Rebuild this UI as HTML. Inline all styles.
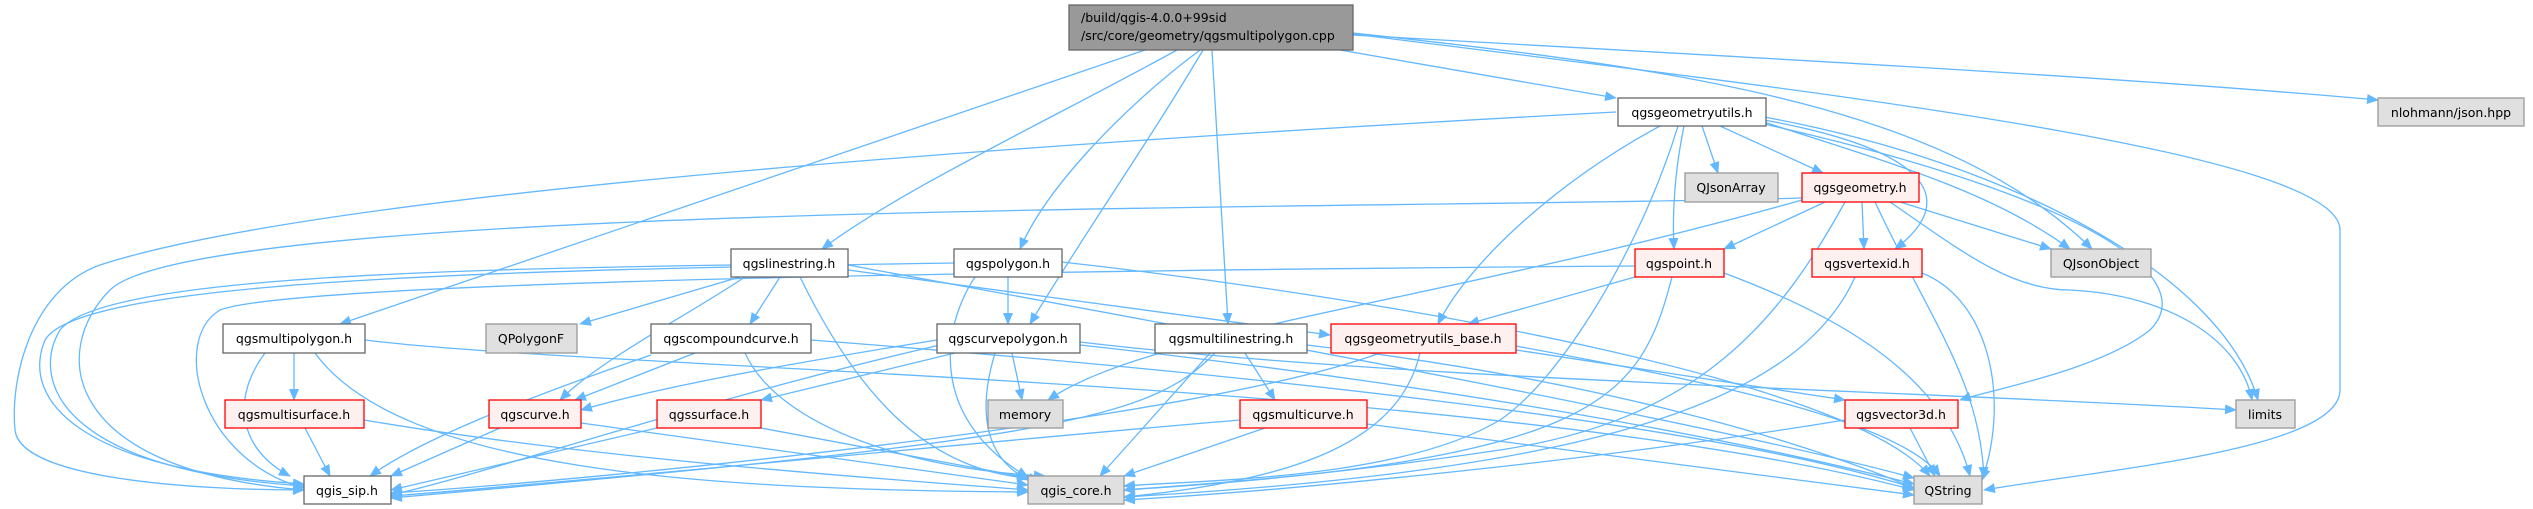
<!DOCTYPE html>
<html><head><meta charset="utf-8"><style>
html,body{margin:0;padding:0;background:#fff;}
svg{display:block}
text{font-family:"DejaVu Sans","Liberation Sans",sans-serif;font-size:12.5px;fill:#000}
</style></head><body>
<svg width="2533" height="509" viewBox="0 0 2533 509" xmlns="http://www.w3.org/2000/svg">
<defs>
<marker id="a" markerWidth="12" markerHeight="10" refX="11" refY="5" orient="auto" markerUnits="userSpaceOnUse">
<path d="M0,0 L12,5 L0,10 Z" fill="#63b8ff"/>
</marker>
</defs>
<g fill="none" stroke="#63b8ff" stroke-width="1.3" marker-end="url(#a)">
<!-- root -->
<path d="M1145,50 L340,324"/>
<path d="M1177,50 C1050,120 900,190 822,249"/>
<path d="M1200,50 C1120,110 1045,190 1020,249"/>
<path d="M1203,50 C1150,140 1080,240 1030,324"/>
<path d="M1212,50 L1228,324"/>
<path d="M1340,50 L1616,98"/>
<path d="M1353,35 C1700,55 2100,75 2378,100"/>
<path d="M1353,33 C1700,70 1950,110 2092,249"/>
<path d="M1353,34 C1800,90 2340,150 2340,230 L2340,390 C2340,450 2100,470 1984,490"/>
<!-- geometryutils -->
<path d="M1616,112 C900,150 300,200 100,265 C30,290 10,380 15,430 C20,480 200,490 304,490"/>
<path d="M1702,126 L1718,173"/>
<path d="M1720,126 L1823,173"/>
<path d="M1684,126 C1675,170 1672,210 1674,249"/>
<path d="M1660,126 C1560,180 1470,260 1438,324"/>
<path d="M1678,126 C1640,250 1560,380 1500,420 C1400,480 1200,480 1124,486"/>
<path d="M1764,120 C1930,150 1960,200 1895,249"/>
<path d="M1764,122 C1880,160 1990,190 2070,249"/>
<path d="M1764,117 C2000,160 2220,270 2258,400"/>
<path d="M1764,124 C2100,200 2200,280 2150,330 C2100,370 1990,390 1960,400"/>
<!-- geometry -->
<path d="M1802,198 C1400,210 200,200 110,290 C50,350 60,470 304,490"/>
<path d="M1802,200 C1450,300 1150,330 1048,400"/>
<path d="M1825,202 L1724,249"/>
<path d="M1862,202 L1864,249"/>
<path d="M1900,202 L2051,249"/>
<path d="M1845,202 C1780,320 1700,420 1500,450 C1300,480 1170,486 1124,490"/>
<path d="M1875,202 C1930,320 1980,380 1984,478"/>
<path d="M1890,202 C1960,250 2010,290 2070,290 C2170,295 2240,340 2252,400"/>
<!-- qgspoint -->
<path d="M1635,266 C1100,270 300,280 220,310 C170,340 200,460 304,488"/>
<path d="M1635,277 L1468,324"/>
<path d="M1672,277 C1640,400 1600,460 1124,490"/>
<path d="M1724,273 C1850,320 1945,380 1970,476"/>
<!-- vertexid -->
<path d="M1855,277 C1800,400 1600,470 1124,497"/>
<path d="M1922,273 C1990,300 2010,400 1982,480"/>
<!-- geometryutils_base -->
<path d="M1380,353 C1200,420 600,480 391,493"/>
<path d="M1420,353 C1400,440 1300,480 1124,497"/>
<path d="M1516,350 L1845,400"/>
<path d="M1516,346 C1700,380 1900,420 1940,476"/>
<!-- vector3d -->
<path d="M1845,420 C1600,460 1300,490 1124,500"/>
<path d="M1910,428 L1935,476"/>
<!-- multicurve -->
<path d="M1240,420 C1000,440 600,480 391,496"/>
<path d="M1265,428 L1124,476"/>
<path d="M1367,424 L1914,495"/>
<!-- multilinestring -->
<path d="M1215,353 C1150,420 1050,440 391,498"/>
<path d="M1210,353 L1100,476"/>
<path d="M1245,353 L1275,400"/>
<path d="M1307,345 C1600,380 1800,440 1914,488"/>
<!-- curvepolygon -->
<path d="M937,340 C750,370 650,390 581,410"/>
<path d="M955,353 L761,400"/>
<path d="M940,345 C700,400 500,470 391,495"/>
<path d="M1012,353 L1022,400"/>
<path d="M995,353 C975,420 990,460 1028,480"/>
<path d="M1080,345 C1400,380 1700,430 1914,484"/>
<path d="M1080,342 C1400,380 1900,390 2236,410"/>
<!-- linestring -->
<path d="M731,265 C400,270 100,280 60,330 C30,380 60,470 304,486"/>
<path d="M740,277 L580,324"/>
<path d="M780,277 L750,324"/>
<path d="M745,277 C680,320 600,360 560,400"/>
<path d="M800,277 C860,400 930,470 1028,478"/>
<path d="M848,270 L1330,335"/>
<path d="M848,265 C1200,330 1700,420 1914,478"/>
<!-- polygon -->
<path d="M954,263 C500,270 80,280 45,340 C20,400 80,470 304,484"/>
<path d="M1008,277 L1008,324"/>
<path d="M975,277 C940,330 930,420 1028,477"/>
<path d="M1062,262 C1400,300 1850,380 1930,476"/>
<!-- multipolygon -->
<path d="M265,353 C230,400 240,450 290,476"/>
<path d="M294,353 L294,400"/>
<path d="M315,353 C400,470 700,490 1028,492"/>
<path d="M365,340 C600,370 1500,380 1914,490"/>
<!-- compoundcurve -->
<path d="M651,355 C520,400 420,440 370,476"/>
<path d="M695,353 L575,400"/>
<path d="M745,353 C780,430 920,470 1045,476"/>
<path d="M811,340 C1200,370 1700,420 1914,488"/>
<!-- multisurface, curve, surface -->
<path d="M305,428 L330,476"/>
<path d="M364,420 C600,460 900,480 1028,490"/>
<path d="M500,428 L391,476"/>
<path d="M581,423 L1028,485"/>
<path d="M657,428 L391,490"/>
<path d="M761,428 L1040,480"/>
</g>
<g stroke-width="1.3">
<rect x="1069" y="5" width="284" height="45" fill="#999" stroke="#666"/>
<text x="1081" y="22">/build/qgis-4.0.0+99sid</text>
<text x="1081" y="40">/src/core/geometry/qgsmultipolygon.cpp</text>
</g>
<g stroke-width="1.3" text-anchor="middle">
<rect x="1618" y="98" width="148" height="28" fill="#fff" stroke="#666"/><text x="1692" y="117">qgsgeometryutils.h</text>
<rect x="2378" y="98" width="146" height="28" fill="#e0e0e0" stroke="#999"/><text x="2451" y="117">nlohmann/json.hpp</text>
<rect x="1685" y="173" width="93" height="29" fill="#e0e0e0" stroke="#999"/><text x="1731" y="192">QJsonArray</text>
<rect x="1802" y="173" width="117" height="29" fill="#fff0f0" stroke="#f00"/><text x="1860" y="192">qgsgeometry.h</text>
<rect x="731" y="249" width="117" height="28" fill="#fff" stroke="#666"/><text x="789" y="268">qgslinestring.h</text>
<rect x="954" y="249" width="108" height="28" fill="#fff" stroke="#666"/><text x="1008" y="268">qgspolygon.h</text>
<rect x="1635" y="249" width="89" height="28" fill="#fff0f0" stroke="#f00"/><text x="1679" y="268">qgspoint.h</text>
<rect x="1812" y="249" width="110" height="28" fill="#fff0f0" stroke="#f00"/><text x="1867" y="268">qgsvertexid.h</text>
<rect x="2051" y="249" width="100" height="28" fill="#e0e0e0" stroke="#999"/><text x="2101" y="268">QJsonObject</text>
<rect x="223" y="324" width="142" height="29" fill="#fff" stroke="#666"/><text x="294" y="343">qgsmultipolygon.h</text>
<rect x="486" y="324" width="91" height="29" fill="#e0e0e0" stroke="#999"/><text x="531" y="343">QPolygonF</text>
<rect x="651" y="324" width="160" height="29" fill="#fff" stroke="#666"/><text x="731" y="343">qgscompoundcurve.h</text>
<rect x="937" y="324" width="143" height="29" fill="#fff" stroke="#666"/><text x="1008" y="343">qgscurvepolygon.h</text>
<rect x="1155" y="324" width="152" height="29" fill="#fff" stroke="#666"/><text x="1231" y="343">qgsmultilinestring.h</text>
<rect x="1331" y="324" width="185" height="29" fill="#fff0f0" stroke="#f00"/><text x="1423" y="343">qgsgeometryutils_base.h</text>
<rect x="225" y="400" width="139" height="28" fill="#fff0f0" stroke="#f00"/><text x="294" y="419">qgsmultisurface.h</text>
<rect x="489" y="400" width="92" height="28" fill="#fff0f0" stroke="#f00"/><text x="535" y="419">qgscurve.h</text>
<rect x="657" y="400" width="104" height="28" fill="#fff0f0" stroke="#f00"/><text x="709" y="419">qgssurface.h</text>
<rect x="988" y="400" width="75" height="28" fill="#e0e0e0" stroke="#999"/><text x="1025" y="419">memory</text>
<rect x="1240" y="400" width="127" height="28" fill="#fff0f0" stroke="#f00"/><text x="1303" y="419">qgsmulticurve.h</text>
<rect x="1845" y="400" width="113" height="28" fill="#fff0f0" stroke="#f00"/><text x="1901" y="419">qgsvector3d.h</text>
<rect x="2236" y="400" width="59" height="28" fill="#e0e0e0" stroke="#999"/><text x="2265" y="419">limits</text>
<rect x="304" y="476" width="87" height="28" fill="#fff" stroke="#666"/><text x="347" y="495">qgis_sip.h</text>
<rect x="1028" y="476" width="96" height="28" fill="#e0e0e0" stroke="#999"/><text x="1076" y="495">qgis_core.h</text>
<rect x="1914" y="476" width="68" height="28" fill="#e0e0e0" stroke="#999"/><text x="1948" y="495">QString</text>
</g>
</svg>
</body></html>
